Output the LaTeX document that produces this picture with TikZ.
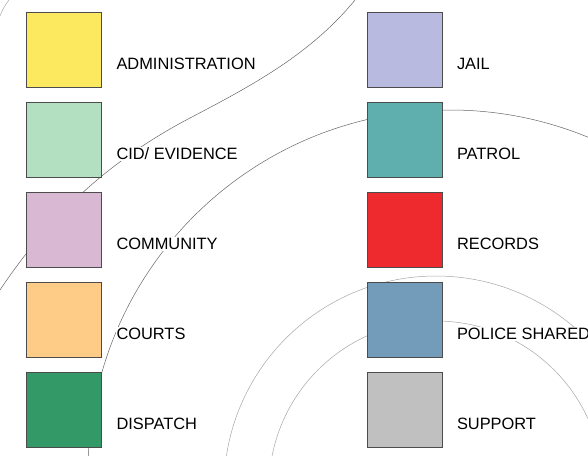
\documentclass[tikz,border=0pt]{standalone}
\usepackage{fontspec}
\setmainfont{Liberation Sans}
\usetikzlibrary{positioning}

\definecolor{admincol}{HTML}{FDE95F}
\definecolor{cidcol}{HTML}{B2E0C0}
\definecolor{communitycol}{HTML}{D8B8D2}
\definecolor{courtscol}{HTML}{FFCC88}
\definecolor{dispatchcol}{HTML}{339966}
\definecolor{jailcol}{HTML}{B9BADF}
\definecolor{patrolcol}{HTML}{5FAFAF}
\definecolor{recordscol}{HTML}{EE2A2F}
\definecolor{sharedcol}{HTML}{739BBA}
\definecolor{supportcol}{HTML}{C0C0C0}

\tikzstyle{swatch}=[draw=black!70,line width=0.6pt,minimum size=75pt,inner sep=0pt]
\tikzstyle{legendtext}=[font=\fontsize{16.4}{18}\selectfont,fill=white,inner sep=1pt,text height=11.8pt,text depth=0pt,anchor=west]
\tikzstyle{wave}=[draw=black!60,line width=0.5pt]
\tikzstyle{ring}=[draw=black!35,line width=0.5pt]

\begin{document}
\begin{tikzpicture}[x=1pt, y=-1pt]
    \useasboundingbox (0,0) rectangle (588,455);
    \clip (0,0) rectangle (588,455);
    % First we draw the curves behind the legend
    \path[ring] (0,16) to[bend left=8] (9,0);
    \path[wave] (0,290) .. controls (50,215) and (110,160) .. (190,118)
        .. controls (250,86.5) and (310,55) .. (355,0);
    \path[wave] (450,472) circle[radius=362pt];
    \path[ring] (436,488) circle[radius=212pt];
    \path[ring] (436,488) circle[radius=167pt];
    % Then the colour swatches with their captions
    \foreach \pos/\name/\shade/\word in {{(64,50)/admin/admincol/ADMINISTRATION}, {(64,140)/cid/cidcol/{CID/ EVIDENCE}},
        {(64,230)/community/communitycol/COMMUNITY}, {(64,320)/courts/courtscol/COURTS}, {(64,410)/dispatch/dispatchcol/DISPATCH},
        {(404.5,50)/jail/jailcol/JAIL}, {(404.5,140)/patrol/patrolcol/PATROL}, {(404.5,230)/records/recordscol/RECORDS},
        {(404.5,320)/shared/sharedcol/POLICE SHARED}, {(404.5,410)/support/supportcol/SUPPORT}}
    {
        \node[swatch,fill=\shade] (\name) at \pos {};
        \node[legendtext] (\name-text) at ([xshift=13.5pt,yshift=-14pt]\name.east) {\word};
    }
\end{tikzpicture}
\end{document}
